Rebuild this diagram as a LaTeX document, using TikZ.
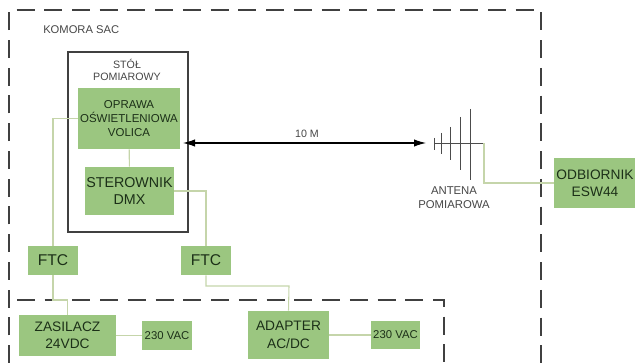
\documentclass[tikz,border=0pt]{standalone}
\usepackage{fontspec}
\setmainfont{Liberation Sans}
\usetikzlibrary{arrows.meta,positioning}
\definecolor{BoxGreen}{RGB}{155,198,128}
\definecolor{WireGreen}{RGB}{197,213,170}
\definecolor{BoxText}{RGB}{28,48,24}
\definecolor{NoteGray}{RGB}{70,70,70}
\tikzset{
  block/.style={fill=BoxGreen,inner sep=0pt,align=center,text=BoxText},
  bigblock/.style={block,font=\fontsize{10.3}{13}\selectfont},
  lampblock/.style={block,font=\fontsize{8.6}{10.5}\selectfont,minimum width=76.5pt,minimum height=45.75pt},
  ftcblock/.style={block,font=\fontsize{11.7}{14}\selectfont,minimum width=37.5pt,minimum height=21.75pt},
  vacblock/.style={block,font=\fontsize{8.5}{10}\selectfont,minimum width=37pt,minimum height=21.5pt},
  note/.style={inner sep=0pt,align=center,text=NoteGray},
  wire/.style={WireGreen,thick},
  boundary/.style={draw=black!75,line width=1pt,dash pattern=on 13.5pt off 7.3pt},
  element/.style={draw=black!70,semithick}
}

\begin{document}
\begin{tikzpicture}[x=0.75pt,y=-0.75pt]
  \useasboundingbox (0,0) rectangle (635,363);
  % chamber and supply boundaries
  \draw[boundary] (9,363) -- (9,10) -- (541,10) -- (541,363);
  \draw[boundary] (17,300) -- (444,300) -- (444,363);
  \node[note,anchor=west,font=\fontsize{8.4}{10}\selectfont] (chamber) at (43,30) {KOMORA SAC};
  % table
  \node[draw=black!75,thick,minimum width=90pt,minimum height=135pt,inner sep=0pt] (table) at (128,142) {};
  \node[note,font=\fontsize{8}{9.3}\selectfont] (tablelabel) at (127,70) {STÓŁ\\POMIAROWY};
  % blocks
  \node[lampblock] (lamp) at (129,118.5) {OPRAWA\\OŚWIETLENIOWA\\VOLICA};
  \node[bigblock,font=\fontsize{10.7}{13}\selectfont,minimum width=66.75pt,minimum height=36pt] (driver) at (129.5,191) {STEROWNIK\\DMX};
  \node[ftcblock] (ftcleft) at (53,260.5) {FTC};
  \node[ftcblock] (ftcright) at (206,260.5) {FTC};
  \node[bigblock,minimum width=72.75pt,minimum height=30.75pt] (psu) at (67.5,335.5) {ZASILACZ\\24VDC};
  \node[vacblock] (vacleft) at (167,335.5) {230 VAC};
  \node[bigblock,minimum width=60.75pt,minimum height=36pt] (adapter) at (288.5,335) {ADAPTER\\AC/DC};
  \node[vacblock] (vacright) at (395.5,335) {230 VAC};
  \node[bigblock,minimum width=61.5pt,minimum height=37.5pt] (receiver) at (595,183) {ODBIORNIK\\ESW44};
  % antenna
  \coordinate (feed) at (434,143);
  \coordinate (antend) at (484,143);
  \draw[element] (feed) -- (antend);
  \draw[element] (434,138) -- (434,150);
  \draw[element] (441,133) -- (441,154);
  \draw[element] (450,127) -- (450,160);
  \draw[element] (460,117) -- (460,170);
  \draw[element] (470,109) -- (470,180);
  \node[note,font=\fontsize{8.5}{10.5}\selectfont] (antlabel) at (454,197.5) {ANTENA\\POMIAROWA};
  % distance
  \coordinate (tablepoint) at (183,143);
  \coordinate (antpoint) at (426,143);
  \draw[{Latex[length=9pt,width=5.5pt]}-{Latex[length=9pt,width=5.5pt]},thick] (tablepoint) -- (antpoint)
    node[pos=0.51,above=4pt,inner sep=0pt,text=NoteGray,font=\fontsize{8}{10}\selectfont] (distance) {10 M};
  % cabling
  \draw[wire] (lamp.west) -| (ftcleft.north);
  \draw[wire] (lamp) -- (driver);
  \draw[wire] (driver.east) -| (ftcright.north);
  \draw[wire] (ftcleft.south) -- (53,300) -| (psu.north);
  \draw[wire] (ftcright.south) |- (289,286) -- (adapter.north);
  \draw[wire] (psu) -- (vacleft);
  \draw[wire] (adapter) -- (vacright);
  \draw[wire] (antend) |- (receiver);
\end{tikzpicture}
\end{document}
